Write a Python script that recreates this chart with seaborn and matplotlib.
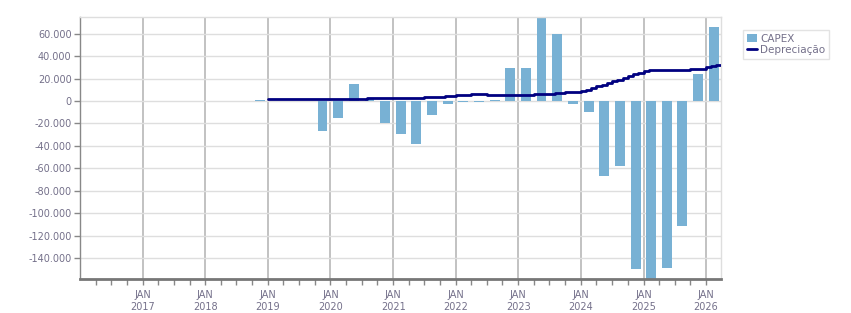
import matplotlib
matplotlib.use("Agg")
import matplotlib.pyplot as plt
import matplotlib.dates as mdates
from matplotlib.ticker import FuncFormatter, MultipleLocator
import seaborn as sns
import pandas as pd

# --- Data ---
# quarterly CAPEX bars
capex_quarters = ["2018Q4", "2019Q4", "2020Q1", "2020Q2", "2020Q3", "2020Q4",
                  "2021Q1", "2021Q2", "2021Q3", "2021Q4", "2022Q1", "2022Q2",
                  "2022Q3", "2022Q4", "2023Q1", "2023Q2", "2023Q3", "2023Q4",
                  "2024Q1", "2024Q2", "2024Q3", "2024Q4", "2025Q1", "2025Q2",
                  "2025Q3", "2025Q4", "2026Q1"]
capex_values = [1000, -26300, -14800, 15100, 1800, -19200,
                -29000, -37800, -12100, -2400, -900, -600,
                900, 29200, 29200, 73800, 59400, -2400,
                -9700, -67000, -58200, -149500, -160000, -148600,
                -111400, 23900, 66200]

# monthly depreciation, Jan 2019 .. Apr 2026
dep_start = "2019-01"
dep_values = (
    [1800] * 19 +            # 2019-01 .. 2020-07
    [2700] * 11 +            # 2020-08 .. 2021-06
    [3500] * 4 +             # 2021-07 .. 2021-10
    [4800] * 2 +             # 2021-11 .. 2021-12
    [5600] * 3 +             # 2022-01 .. 2022-03
    [6400] * 3 +             # 2022-04 .. 2022-06
    [5400] * 9 +             # 2022-07 .. 2023-03
    [6300] * 4 +             # 2023-04 .. 2023-07
    [7200] * 2 +             # 2023-08 .. 2023-09
    [8000] * 3 +             # 2023-10 .. 2023-12
    [8600, 10100, 11600, 13100, 14600, 16100, 17600,
     19100, 20600, 22100, 23600, 25100, 26600] +   # 2024-01 .. 2025-01
    [27200] * 8 +            # 2025-02 .. 2025-09
    [28400] * 3 +            # 2025-10 .. 2025-12
    [29900, 31000, 31900, 32600]                   # 2026-01 .. 2026-04
)

year_ticks = list(range(2017, 2027))

# --- Build tables ---
periods = [pd.Period(q, freq="Q") for q in capex_quarters]
mid_dates = [p.start_time + (p.end_time - p.start_time) / 2 for p in periods]
capex_df = pd.DataFrame({"x": mdates.date2num(mid_dates), "CAPEX": capex_values})

dep_dates = pd.date_range(dep_start, periods=len(dep_values), freq="MS")
dep_df = pd.DataFrame({"x": mdates.date2num(dep_dates), "Depreciação": dep_values})

# --- Style ---
sns.set_style("white")
plt.rcParams["font.family"] = ["DejaVu Sans"]
label_color = "#74708a"

fig = plt.figure(figsize=(8.51, 3.13), dpi=100)
ax = fig.add_axes([80 / 851, 1 - 279 / 313, 641 / 851, 262 / 313])

sns.barplot(data=capex_df, x="x", y="CAPEX", native_scale=True, orient="x",
            width=0.64, color="#78b1d4", saturation=1, errorbar=None,
            linewidth=0, edgecolor="none", label="CAPEX", ax=ax, zorder=2)
sns.lineplot(data=dep_df, x="x", y="Depreciação", color="#000080",
             linewidth=2, drawstyle="steps-post", label="Depreciação",
             ax=ax, zorder=3)

# --- Axes ---
ax.set_xlim(mdates.date2num(pd.Timestamp("2016-01-01")),
            mdates.date2num(pd.Timestamp("2026-03-29")))
ax.set_ylim(-158300, 74700)
ax.set_xlabel("")
ax.set_ylabel("")

# major ticks at every quarter (labels only on January), minor at January for the grid
quarter_starts = pd.date_range("2016-04-01", "2026-03-01", freq="QS")
ax.set_xticks(mdates.date2num(quarter_starts))
ax.set_xticklabels([f"JAN\n{d.year}" if d.month == 1 else "" for d in quarter_starts])
ax.xaxis.remove_overlapping_locs = False
ax.set_xticks(mdates.date2num([pd.Timestamp(f"{y}-01-01") for y in year_ticks]), minor=True)

ax.yaxis.set_major_locator(MultipleLocator(20000))
ax.yaxis.set_major_formatter(FuncFormatter(lambda v, p: f"{v:,.0f}".replace(",", ".")))

ax.tick_params(axis="y", which="major", length=4, width=1, color="#888888",
               labelsize=7, labelcolor=label_color, pad=2, left=True)
ax.tick_params(axis="x", which="major", length=4, width=1, color="#888888",
               labelsize=7, labelcolor=label_color, pad=4, bottom=True)
ax.tick_params(axis="x", which="minor", length=0, bottom=False)

ax.set_axisbelow(True)
ax.grid(axis="y", which="major", color="#dedede", linewidth=1)
ax.grid(axis="x", which="major", visible=False)
ax.grid(axis="x", which="minor", color="#b8b8b8", linewidth=1.2)

for side in ["top", "right"]:
    ax.spines[side].set_color("#dedede")
    ax.spines[side].set_linewidth(1)
ax.spines["left"].set_color("#888888")
ax.spines["left"].set_linewidth(1)
ax.spines["bottom"].set_color("#777777")
ax.spines["bottom"].set_linewidth(2)

# --- Legend outside, upper right (CAPEX first) ---
handles, labels = ax.get_legend_handles_labels()
order = [labels.index("CAPEX"), labels.index("Depreciação")]
leg = ax.legend([handles[i] for i in order], [labels[i] for i in order],
                loc="upper left", bbox_to_anchor=(743 / 851, 1 - 30 / 313),
                bbox_transform=fig.transFigure, frameon=True, fancybox=False,
                fontsize=7.5, handlelength=1.0, handleheight=0.9,
                handletextpad=0.3, borderpad=0.35, labelspacing=0.15,
                borderaxespad=0)
leg.get_frame().set_edgecolor("#dddddd")
leg.get_frame().set_linewidth(1)
for t in leg.get_texts():
    t.set_color(label_color)

fig.savefig("out.png", dpi=100)
